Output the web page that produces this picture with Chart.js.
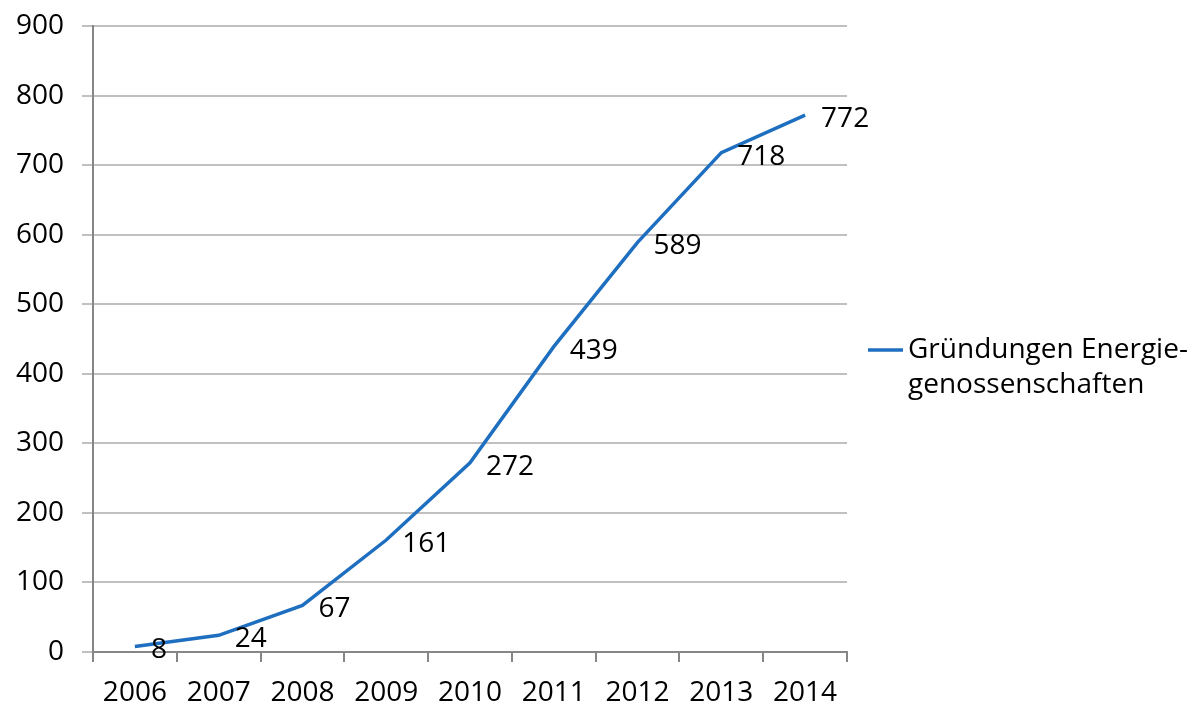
<!DOCTYPE html>
<html><head><meta charset="utf-8">
<script src="https://cdn.jsdelivr.net/npm/chart.js@4.4.0/dist/chart.umd.min.js"></script>
<style>html,body{margin:0;padding:0;background:#fff}#wrap{width:1195px;height:709px}</style>
</head><body><div id="wrap"><canvas id="c" width="1195" height="709"></canvas></div>
<script>
const years = ['2006','2007','2008','2009','2010','2011','2012','2013','2014'];
const values = [8, 24, 67, 161, 272, 439, 589, 718, 772];
const seriesLabel = ['Gründungen Energie-', 'genossenschaften'];
const yMin = 0, yMax = 900, yStep = 100;

const FONT = "'Open Sans', sans-serif";
const lineColor = '#1f6fc0';

const labelPlugin = {
  id: 'valueLabels',
  afterDatasetsDraw(chart) {
    const ctx = chart.ctx;
    const meta = chart.getDatasetMeta(0);
    ctx.save();
    ctx.font = '28px ' + FONT;
    ctx.fillStyle = '#000';
    ctx.textAlign = 'left';
    ctx.textBaseline = 'middle';
    meta.data.forEach((pt, i) => {
      ctx.fillText(String(values[i]), pt.x + 16, pt.y + 4);
    });
    ctx.restore();
  }
};

const legendPlugin = {
  id: 'sideLegend',
  afterDraw(chart) {
    const ctx = chart.ctx;
    ctx.save();
    ctx.strokeStyle = lineColor;
    ctx.lineWidth = 3.5;
    ctx.beginPath();
    ctx.moveTo(868, 350);
    ctx.lineTo(903, 350);
    ctx.stroke();
    ctx.font = '28px ' + FONT;
    ctx.fillStyle = '#000';
    ctx.textAlign = 'left';
    ctx.textBaseline = 'middle';
    ctx.fillText(seriesLabel[0], 908, 350);
    ctx.fillText(seriesLabel[1], 908, 385);
    ctx.restore();
  }
};

new Chart(document.getElementById('c'), {
  type: 'line',
  data: {
    labels: years,
    datasets: [{
      label: seriesLabel.join(''),
      data: values,
      borderColor: lineColor,
      borderWidth: 3.5,
      pointRadius: 0,
      tension: 0,
      fill: false
    }]
  },
  options: {
    responsive: false,
    animation: false,
    devicePixelRatio: 1,
    layout: { padding: { left: 0, right: 348, top: 26, bottom: 0 } },
    plugins: { legend: { display: false }, tooltip: { enabled: false } },
    scales: {
      x: {
        offset: true,
        grid: { offset: true, drawOnChartArea: false, drawTicks: true, tickLength: 10, color: '#868686', lineWidth: 2 },
        border: { display: true, color: '#868686', width: 2 },
        ticks: { font: { size: 28, family: FONT }, color: '#000', padding: 14, maxRotation: 0 },
        afterFit(s) { s.height = 57; s.paddingLeft = 0; s.paddingRight = 0; }
      },
      y: {
        min: yMin, max: yMax,
        grid: { color: '#c0c0c0', lineWidth: 2, drawTicks: true, tickLength: 11 },
        border: { display: true, color: '#868686', width: 2 },
        ticks: { stepSize: yStep, font: { size: 28, family: FONT }, color: '#000', padding: 18 },
        afterFit(s) { s.width = 93; s.paddingTop = 0; s.paddingBottom = 0; }
      }
    }
  },
  plugins: [labelPlugin, legendPlugin]
});
</script></body></html>
